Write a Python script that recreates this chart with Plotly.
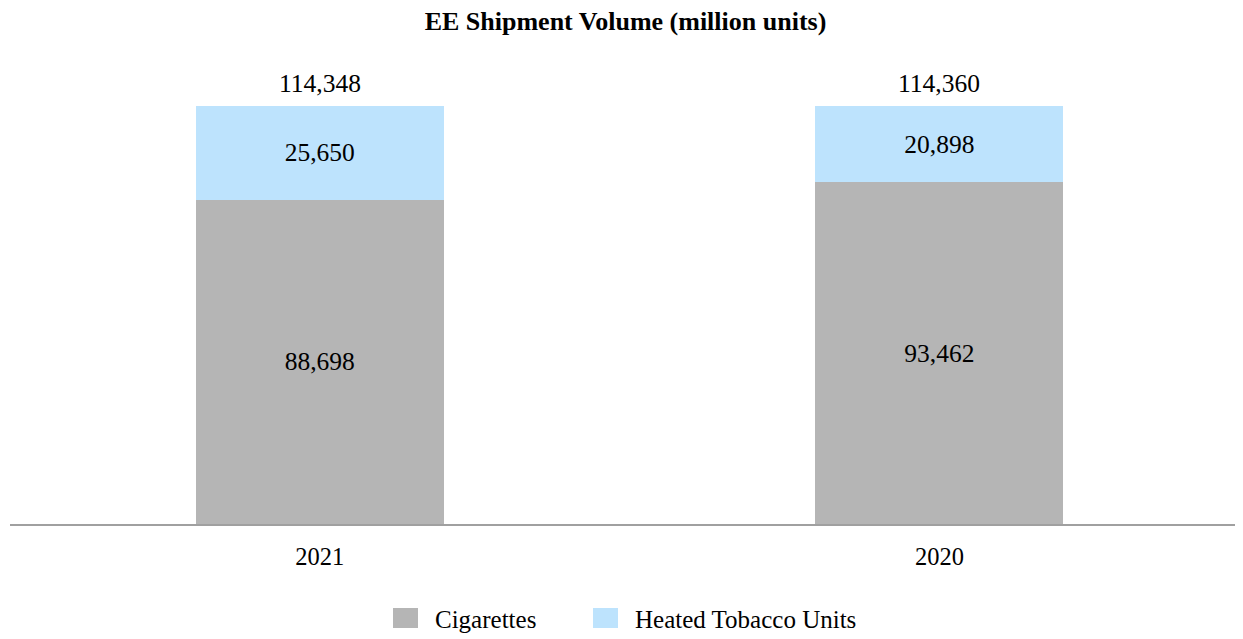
import plotly.graph_objects as go

categories = ["2021", "2020"]
cigarettes = [88698, 93462]
heated = [25650, 20898]
totals = [c + h for c, h in zip(cigarettes, heated)]
series_names = ["Cigarettes", "Heated Tobacco Units"]
series_colors = ["#b5b5b5", "#bde3fd"]

FONT = "Liberation Serif"
FIG_W, FIG_H = 1235, 631
M_L, M_R, M_T, M_B = 2, 0, 52, 115
PLOT_W = FIG_W - M_L - M_R
PLOT_H = FIG_H - M_T - M_B

fig = go.Figure()
for name, vals, col in zip(series_names, [cigarettes, heated], series_colors):
    fig.add_trace(go.Bar(
        name=name, x=categories, y=vals, showlegend=False,
        marker=dict(color=col, line=dict(width=0)),
        text=[f"{v:,}" for v in vals], textposition="inside",
        insidetextanchor="middle", textfont=dict(family=FONT, size=25.5, color="black"),
        width=0.4,
    ))
for i, t in enumerate(totals):
    fig.add_annotation(x=i, y=t, xref="x", yref="y", text=f"{t:,}", showarrow=False,
                       yanchor="bottom", yshift=6,
                       font=dict(family=FONT, size=25.5, color="black"))


def px_x(fx):
    return (fx - M_L) / PLOT_W


def px_y(fy):
    return (FIG_H - M_B - fy) / PLOT_H


# custom legend (swatch + label), positioned in pixels of the figure
legend_starts = [385, 585]
sw_w, sw_top, sw_bot = 25, 600, 620
for x0, name, col in zip(legend_starts, series_names, series_colors):
    fig.add_shape(type="rect", xref="paper", yref="paper",
                  x0=px_x(x0), x1=px_x(x0 + sw_w), y0=px_y(sw_bot), y1=px_y(sw_top),
                  fillcolor=col, line=dict(width=0))
    fig.add_annotation(xref="paper", yref="paper", x=px_x(x0 + sw_w + 17), y=px_y(611),
                       xanchor="left", yanchor="middle", text=name, showarrow=False,
                       xshift=-2, font=dict(family=FONT, size=25, color="black"))

fig.update_layout(
    barmode="stack",
    width=FIG_W, height=FIG_H,
    margin=dict(l=M_L, r=M_R, t=M_T, b=M_B),
    paper_bgcolor="white", plot_bgcolor="white",
    title=dict(text="<b>EE Shipment Volume (million units)</b>", x=0.5, xanchor="center",
               y=1 - 12.5 / FIG_H, yref="container", yanchor="middle",
               font=dict(family=FONT, size=26, color="black")),
    font=dict(family=FONT, size=24, color="black"),
    xaxis=dict(type="category", range=[-0.5, 1.49], showline=True, linecolor="#a0a0a0",
               linewidth=2, ticks="", showgrid=False, ticklabelstandoff=10,
               tickfont=dict(family=FONT, size=24.5, color="black")),
    yaxis=dict(range=[0, 126950], visible=False, showgrid=False),
    showlegend=False,
)
fig.write_html("out.html")
